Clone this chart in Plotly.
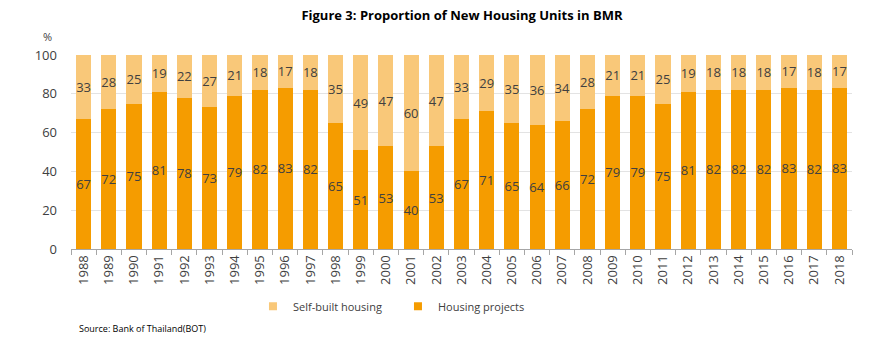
import plotly.graph_objects as go

years = [str(y) for y in range(1988, 2019)]
housing_projects = [67, 72, 75, 81, 78, 73, 79, 82, 83, 82, 65, 51, 53, 40, 53,
                    67, 71, 65, 64, 66, 72, 79, 79, 75, 81, 82, 82, 82, 83, 82, 83]
self_built = [33, 28, 25, 19, 22, 27, 21, 18, 17, 18, 35, 49, 47, 60, 47,
              33, 29, 35, 36, 34, 28, 21, 21, 25, 19, 18, 18, 18, 17, 18, 17]

DARK = "#F59C00"
LIGHT = "#F9C879"
TXT = "#404040"
FONT = "Open Sans"

fig = go.Figure()
fig.add_trace(go.Bar(
    x=years, y=housing_projects, name="Housing projects",
    marker=dict(color=DARK, line=dict(width=0)),
    text=housing_projects, textposition="inside", insidetextanchor="middle",
    textangle=0, constraintext="none", showlegend=False,
    textfont=dict(size=13, color=TXT, family=FONT),
))
fig.add_trace(go.Bar(
    x=years, y=self_built, name="Self-built housing",
    marker=dict(color=LIGHT, line=dict(width=0)),
    text=self_built, textposition="inside", insidetextanchor="middle",
    textangle=0, constraintext="none", showlegend=False,
    textfont=dict(size=13, color=TXT, family=FONT),
))
# legend entries with small square symbols
for name, col in [("Self-built housing", LIGHT), ("Housing projects", DARK)]:
    fig.add_trace(go.Scatter(
        x=[None], y=[None], mode="markers", name=name,
        marker=dict(symbol="square", size=8, color=col), showlegend=True,
    ))

fig.update_layout(
    width=870, height=346,
    barmode="stack", bargap=0.4,
    margin=dict(l=71, r=18, t=55, b=97),
    paper_bgcolor="white", plot_bgcolor="white",
    font=dict(family=FONT, color=TXT, size=13),
    title=dict(text="<b>Figure 3: Proportion of New Housing Units in BMR</b>",
               x=0.531, xanchor="center", y=0.955, yanchor="middle",
               font=dict(size=13, color="#000000", family=FONT)),
    showlegend=True,
    legend=dict(orientation="h", x=0.233, xanchor="left", y=-0.295, yanchor="middle",
                font=dict(size=11, color=TXT, family=FONT), traceorder="normal",
                itemwidth=30, entrywidth=100),
)
fig.update_xaxes(
    type="category", tickangle=-90, tickfont=dict(size=13, color=TXT),
    showline=True, linecolor="#A6A6A6", linewidth=1,
    ticks="outside", tickson="boundaries", ticklen=5, tickcolor="#A6A6A6",
    showgrid=False,
)
fig.update_yaxes(
    range=[0, 100], dtick=20, tickfont=dict(size=13, color=TXT),
    showgrid=True, gridcolor="#E3E3E3", gridwidth=1,
    zeroline=False, showline=False, ticks="", ticklabelstandoff=13,
)
fig.add_annotation(text="%", xref="paper", yref="paper", x=-0.022, y=1.045,
                   xanchor="right", yanchor="bottom", showarrow=False,
                   font=dict(size=11, color=TXT, family=FONT))
fig.add_annotation(text="Source: Bank of Thailand(BOT)", xref="paper", yref="paper",
                   x=0.008, y=-0.41, xanchor="left", yanchor="middle", showarrow=False,
                   font=dict(size=9, color="#000000", family=FONT))

fig.write_html("out.html")
